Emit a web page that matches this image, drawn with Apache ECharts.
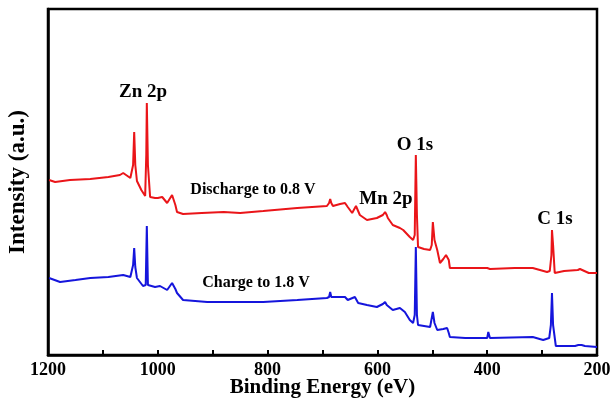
<!DOCTYPE html>
<html>
<head>
<meta charset="utf-8">
<script src="https://cdn.jsdelivr.net/npm/echarts@6/dist/echarts.min.js"></script>
<style>
html,body{margin:0;padding:0;background:#fff;}
#c{width:611px;height:405px;}
</style>
</head>
<body>
<div id="c"></div>
<script>
// Binding energy (eV) and intensity (a.u.)
const dischargeE = [1198,1187,1160,1123,1090,1069,1063,1050,1047,1045,1043,1041,1038,1030,1023,1021,1020,1018,1014,1005,1000,992,983,974,968,965,954,920,880,850,808,746,692,688,686,684,681,668,659,656,654,646,642,639,632,619,610,601,590,586,583,581,572,559,553,541,535,532,530,528,526,515,504,501,499,496,491,486,480,475,473,470,468,440,400,399,398,395,350,317,291,286,283,282,280,277,260,235,231,228,215,200];
const dischargeI = [175,173,175,176,178,180,182,177,175,190,223,190,174,165,159,200,252,190,158,157,157,158,152,160,150,143,141,142,143,142,144,147,149,152,156,152,149,151,152,150,148,142,146,149,140,135,136,137,140,143,140,137,130,127,125,118,115,120,200,140,108,106,105,110,133,115,105,92,96,100,102,95,87,87,87,88,89,86,87,87,83,84,100,125,110,82,84,85,86,84,82,82];
const chargeE = [1198,1178,1150,1123,1090,1063,1050,1047,1045,1043,1041,1038,1027,1022,1020,1018,1005,996,983,974,968,965,954,910,850,808,746,692,688,686,684,681,659,654,641,635,619,601,590,586,583,581,572,559,550,541,535,532,530,528,526,504,501,499,496,491,480,473,470,468,440,400,399,398,395,317,298,287,284,282,280,275,240,234,231,228,222,200];
const chargeI = [77,73,75,77,78,80,78,77,90,107,88,77,69,70,129,70,68,69,65,72,66,62,55,53,53,53,55,57,58,63,58,57,58,55,58,52,50,48,51,53,50,48,45,47,43,35,32,40,108,40,30,28,30,43,32,25,26,27,22,18,17,17,18,23,17,18,15,17,30,62,30,9,9,10,12,10,9,8];

const energyTicks = [1200,1000,800,600,400,200];

const discharge = dischargeE.map((e,i)=>[e,dischargeI[i]]);
const charge = chargeE.map((e,i)=>[e,chargeI[i]]);

const serif = '"Liberation Serif","Times New Roman",serif';
const chart = echarts.init(document.getElementById('c'), null, {renderer:'canvas'});
chart.setOption({
  backgroundColor:'#ffffff',
  animation:false,
  grid:{left:48,right:14,top:9,bottom:50,containLabel:false,outerBoundsMode:'none',show:true,borderColor:'#000',borderWidth:2.5,backgroundColor:'transparent'},
  xAxis:{
    type:'value',min:200,max:1200,interval:100,inverse:true,
    name:'Binding Energy (eV)',nameLocation:'middle',nameGap:22,nameMoveOverlap:false,
    nameTextStyle:{fontFamily:serif,fontWeight:'bold',fontSize:21,color:'#000'},
    axisLine:{show:true,lineStyle:{color:'#000',width:2.5}},
    axisTick:{show:true,inside:true,length:5,lineStyle:{color:'#000',width:2}},
    axisLabel:{fontFamily:serif,fontWeight:'bold',fontSize:18,color:'#000',margin:6,
      formatter:v=>energyTicks.indexOf(v)>=0?String(v):''},
    splitLine:{show:false}
  },
  yAxis:{
    type:'value',min:0,max:346,
    name:'Intensity (a.u.)',nameLocation:'middle',nameGap:18,nameMoveOverlap:false,
    nameTextStyle:{fontFamily:serif,fontWeight:'bold',fontSize:23,color:'#000'},
    axisLine:{show:true,lineStyle:{color:'#000',width:2.5}},
    axisTick:{show:false},axisLabel:{show:false},splitLine:{show:false}
  },
  series:[
    {type:'line',data:discharge,symbol:'none',lineStyle:{color:'#ea1519',width:2},z:3},
    {type:'line',data:charge,symbol:'none',lineStyle:{color:'#1515dc',width:2},z:3}
  ],
  graphic:[
    {type:'text',x:143,y:92,style:{text:'Zn 2p',font:'bold 19px '+serif,fill:'#000',align:'center',verticalAlign:'middle'}},
    {type:'text',x:415,y:145,style:{text:'O 1s',font:'bold 19px '+serif,fill:'#000',align:'center',verticalAlign:'middle'}},
    {type:'text',x:386,y:199,style:{text:'Mn 2p',font:'bold 19px '+serif,fill:'#000',align:'center',verticalAlign:'middle'}},
    {type:'text',x:555,y:219,style:{text:'C 1s',font:'bold 19px '+serif,fill:'#000',align:'center',verticalAlign:'middle'}},
    {type:'text',x:253,y:190,style:{text:'Discharge to 0.8 V',font:'bold 16px '+serif,fill:'#000',align:'center',verticalAlign:'middle'}},
    {type:'text',x:256,y:283,style:{text:'Charge to 1.8 V',font:'bold 16px '+serif,fill:'#000',align:'center',verticalAlign:'middle'}}
  ]
});
</script>
</body>
</html>
